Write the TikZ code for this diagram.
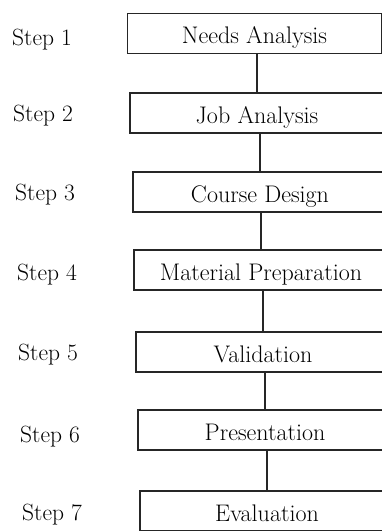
\documentclass[tikz,border=0pt]{standalone}
\begin{document}
\begin{tikzpicture}[x=1pt,y=-1pt,
  stepbox/.style={draw=black!85, line width=1.5pt, minimum width=254pt, minimum height=40pt, inner sep=0pt, text height=22.5pt, text depth=1.6pt, font=\fontsize{24}{28}\selectfont},
  steplabel/.style={anchor=west, inner sep=0pt, font=\fontsize{23.5}{28}\selectfont},
  conn/.style={draw=black!85, line width=1.5pt}]
\useasboundingbox (0,0) rectangle (382,531);
\clip (0,0) rectangle (382,531);
\node[stepbox] (b1) at (254.5,33.5) {Needs Analysis};
\node[stepbox] (b2) at (257,113) {Job Analysis};
\node[stepbox] (b3) at (260,192) {Course Design};
\node[stepbox] (b4) at (261,270) {Material Preparation};
\node[stepbox] (b5) at (263,352) {Validation};
\node[stepbox] (b6) at (265,430) {Presentation};
\node[stepbox] (b7) at (267,511) {Evaluation};
\node[steplabel] (s1) at (12,40) {Step 1};
\node[steplabel] (s2) at (13,116) {Step 2};
\node[steplabel] (s3) at (15,195) {Step 3};
\node[steplabel] (s4) at (17,275) {Step 4};
\node[steplabel] (s5) at (18,355) {Step 5};
\node[steplabel] (s6) at (20,437) {Step 6};
\node[steplabel] (s7) at (22,515) {Step 7};
\draw[conn] (b1.south -| b2.north) -- (b2.north);
\draw[conn] (b2.south -| b3.north) -- (b3.north);
\draw[conn] (b3.south -| b4.north) -- (b4.north);
\draw[conn] (b4.south -| b5.north) -- (b5.north);
\draw[conn] (b5.south -| b6.north) -- (b6.north);
\draw[conn] (b6.south -| b7.north) -- (b7.north);
\end{tikzpicture}
\end{document}
